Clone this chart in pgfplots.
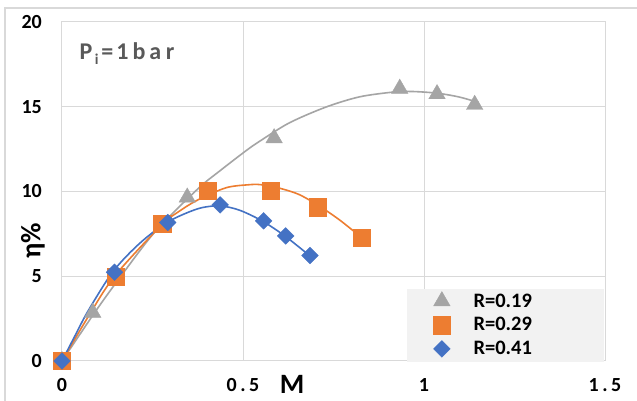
\documentclass[border=0pt]{standalone}
\usepackage{pgfplots}
\pgfplotsset{compat=1.18}
\usepackage{fontspec}
\setmainfont{Carlito}
\definecolor{cgray}{HTML}{A5A5A5}
\definecolor{corange}{HTML}{ED7D31}
\definecolor{cblue}{HTML}{4472C4}
\definecolor{cgrid}{HTML}{D9D9D9}
\definecolor{ctitle}{HTML}{595959}
\definecolor{clegbg}{HTML}{F2F2F2}
\begin{document}
\begin{tikzpicture}[x=1pt,y=1pt]
\useasboundingbox (0,0) rectangle (637,401);
\fill[white] (0,0) rectangle (637,401);
\draw[cgrid, line width=1.2pt] (5,-5) -- (5,393) -- (645,393);
\begin{axis}[
  at={(62pt,40pt)}, anchor=south west,
  scale only axis, width=543pt, height=339pt,
  xmin=0, xmax=1.5, ymin=0, ymax=20,
  xtick={0,0.5,1,1.5}, xticklabels={0,{0\kern3.5pt.\kern3.5pt5},1,{1\kern3.5pt.\kern3.5pt5}},
  ytick={0,5,10,15,20}, yticklabels={0,5,10,15,20},
  grid=major, major grid style={cgrid, line width=1pt},
  axis line style={cgrid, line width=1pt},
  major tick length=0pt,
  tick label style={font=\fontsize{20}{24}\selectfont\bfseries},
  xticklabel style={anchor=center, yshift=-24pt},
  yticklabel style={anchor=east, inner sep=0pt, xshift=-20pt},
  clip=false,
  legend image code/.code={\draw[#1] plot coordinates {(0pt,0pt)};},
  legend style={at={(0.6832,0.1062)}, anchor=west, fill=none, draw=none,
    inner sep=0pt, column sep=21pt, row sep=5pt,
    font=\fontsize{20.5}{24}\selectfont\bfseries, nodes={inner sep=2pt}},
  legend cell align=left,
]
\fill[clegbg] (rel axis cs:0.6354,-0.003) rectangle (rel axis cs:0.9982,0.2124);
% measured points
\addplot[only marks, mark=triangle*, mark size=9.5pt, mark options={fill=cgray, draw=cgray}]
  coordinates {(0,0) (0.085,2.85) (0.346,9.65) (0.586,13.15) (0.933,16.07) (1.036,15.75) (1.14,15.12)};
\addlegendentry{R=0.19}
\addplot[only marks, mark=square*, mark size=8.7pt, mark options={fill=corange, draw=corange}]
  coordinates {(0,0) (0.148,4.98) (0.277,8.09) (0.402,10.04) (0.577,10.04) (0.706,9.08) (0.828,7.28)};
\addlegendentry{R=0.29}
\addplot[only marks, mark=square*, mark size=5.9pt, mark options={fill=cblue, draw=cblue, rotate=45}]
  coordinates {(0,0) (0.145,5.24) (0.292,8.17) (0.437,9.21) (0.557,8.27) (0.618,7.38) (0.685,6.22)};
\addlegendentry{R=0.41}
% trend curves
\addplot[cgray, line width=1.6pt, smooth, no marks, forget plot]
  coordinates {(0,0) (0.09,2.85) (0.154,4.75) (0.256,7.6) (0.375,10.15) (0.435,11.2) (0.508,12.4)
   (0.545,12.95) (0.628,14.05) (0.729,14.98) (0.821,15.58) (0.913,15.86) (0.967,15.9)
   (1.036,15.8) (1.096,15.58) (1.151,15.25)};
\addplot[corange, line width=1.6pt, smooth, no marks, forget plot]
  coordinates {(0,0) (0.072,2.6) (0.145,5.0) (0.274,8.0) (0.325,8.85) (0.375,9.5) (0.453,10.22)
   (0.517,10.4) (0.55,10.4) (0.600,10.2) (0.655,9.82) (0.710,9.15) (0.765,8.35) (0.821,7.4)};
\addplot[cblue, line width=1.6pt, smooth, no marks, forget plot]
  coordinates {(0,0) (0.035,1.45) (0.072,2.95) (0.141,5.28) (0.215,6.95) (0.292,8.2) (0.375,8.98)
   (0.435,9.15) (0.49,8.9) (0.554,8.25) (0.618,7.34) (0.687,6.16)};
\end{axis}
\node[anchor=base west, text=ctitle, font=\fontsize{24}{28}\selectfont\bfseries] at (76,341)
  {P\kern2.5pt\raisebox{-5pt}{\fontsize{15}{15}\selectfont i}\kern3pt=\kern3pt1\kern4pt b\kern4pt a\kern4.5pt r};
\node[rotate=90, font=\fontsize{28}{30}\selectfont\bfseries] at (33,160) {η\%};
\node[font=\fontsize{28}{30}\selectfont\bfseries] at (292,17) {M};
\end{tikzpicture}
\end{document}
